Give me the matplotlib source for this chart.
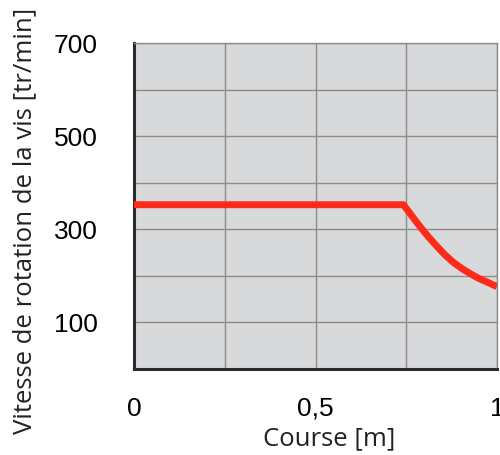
import matplotlib
matplotlib.use("Agg")
import matplotlib.pyplot as plt

# course [m] vs screw speed [tr/min]
course = [0.0, 0.742, 0.758, 0.774, 0.792, 0.811, 0.834, 0.857, 0.880,
          0.903, 0.926, 0.949, 0.975, 1.0]
vitesse = [353, 353, 337, 320, 302, 284, 264, 245, 229,
           216, 205, 195, 186, 177]

yticks = [100, 300, 500, 700]
xticks = [0, 0.5, 1]
xlabels = ["0", "0,5", "1"]

fig = plt.figure(figsize=(5, 4.55), dpi=100)
ax = fig.add_axes([0.268, 0.189, 0.726, 0.716])
ax.set_facecolor("#d8d9db")

ax.plot(course, vitesse, color="#ff2a18", lw=5, solid_capstyle="butt",
        solid_joinstyle="round", zorder=3)

ax.set_xlim(0, 1)
ax.set_ylim(0, 700)
ax.set_axisbelow(True)

ax.set_xticks(xticks)
ax.set_xticks([0.25, 0.75], minor=True)
ax.set_xticklabels(xlabels, family="Liberation Sans", fontsize=19)
ax.set_yticks(yticks)
ax.set_yticks([0, 200, 400, 600], minor=True)
ax.set_yticklabels([str(v) for v in yticks], family="Liberation Sans", fontsize=19)
ax.grid(True, which="both", color="#8c8c8c", lw=1)
ax.tick_params(which="both", length=0)
ax.tick_params(axis="y", pad=26)
ax.tick_params(axis="x", pad=20)

for s in ["top", "right"]:
    ax.spines[s].set_color("#8c8c8c")
    ax.spines[s].set_linewidth(1)
for s in ["left", "bottom"]:
    ax.spines[s].set_color("#2a2a30")
    ax.spines[s].set_linewidth(2.2)

fig.text(0.658, 0.035, "Course [m]", family="Open Sans", fontsize=18.5,
         ha="center", va="center", color="#222222")
fig.text(0.05, 0.514, "Vitesse de rotation de la vis [tr/min]", family="Open Sans",
         fontsize=18.5, rotation=90, ha="center", va="center", color="#222222")

fig.savefig("out.png", dpi=100)
